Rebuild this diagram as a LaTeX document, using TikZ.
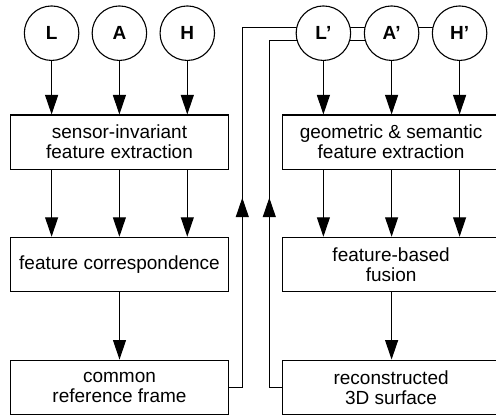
\documentclass[tikz,border=0pt]{standalone}
\usepackage{fontspec}
\setmainfont{Liberation Sans}
\usetikzlibrary{arrows.meta,backgrounds}
\begin{document}
\begin{tikzpicture}[x=1pt,y=-1pt,
  line width=1.1pt,
  every node/.style={font=\fontsize{19pt}{20pt}\selectfont},
  sens/.style={circle,draw,fill=white,minimum size=54.5pt,inner sep=0pt,font=\fontsize{19pt}{20pt}\selectfont\bfseries},
  proc/.style={rectangle,draw,fill=white,minimum width=217.6pt,minimum height=54.4pt,inner sep=0pt,align=center},
  arr/.style={-{Triangle[length=19.5pt,width=13pt]}}]
\useasboundingbox (0,0) rectangle (496,415);
% sensors
\node[sens] (L) at (51.6,33.2) {L};
\node[sens] (A) at (119.4,33.2) {A};
\node[sens] (H) at (187.3,33.2) {H};
\node[sens] (Lp) at (323.4,33.2) {L’};
\node[sens] (Ap) at (391.6,33.2) {A’};
\node[sens] (Hp) at (459.6,33.2) {H’};
% left column
\node[proc] (b1) at (119.5,142.2) {sensor-invariant\\feature extraction};
\node[proc] (b2) at (119.5,264.5) {feature correspondence};
\node[proc] (b3) at (119.5,387.3) {common\\reference frame};
% right column
\node[proc] (r1) at (391.1,142.2) {geometric \& semantic\\feature extraction};
\node[proc] (r2) at (391.1,264.5) {feature-based\\fusion};
\node[proc] (r3) at (391.1,387.3) {reconstructed\\3D surface};
% arrows
\foreach \s in {L,A,H}{
  \draw[arr] (\s.south) -- (\s.south |- b1.north);
  \draw[arr] (\s |- b1.south) -- (\s |- b2.north);
}
\foreach \s in {Lp,Ap,Hp}{
  \draw[arr] (\s.south) -- (\s.south |- r1.north);
  \draw[arr] (\s |- r1.south) -- (\s |- r2.north);
}
\draw[arr] (b2.south) -- (b3.north);
\draw[arr] (r2.south -| Ap) -- (r3.north -| Ap);
% return lines
\coordinate (t1) at (242.3,27.3);
\coordinate (t2) at (269.3,40.0);
\coordinate (a1) at (242.3,197.7);
\coordinate (a2) at (269.3,197.7);
\begin{scope}[on background layer]
  \draw (b3.east) -- (b3.east -| t1) -- (t1) -- (t1 -| Hp);
  \draw (r3.west) -- (r3.west -| t2) -- (t2) -- (t2 -| Ap);
\end{scope}
\draw[arr] (a1 |- b2.north) -- (a1);
\draw[arr] (a2 |- b2.north) -- (a2);
\end{tikzpicture}
\end{document}
